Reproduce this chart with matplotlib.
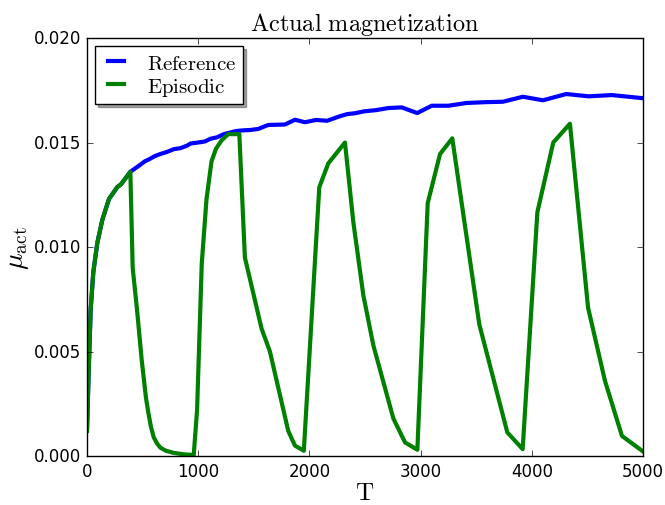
import matplotlib
matplotlib.use("Agg")
import matplotlib.pyplot as plt

plt.style.use("classic")

ref_T = [0, 15, 33, 57, 93, 138, 198, 273, 306, 390, 430, 470, 520, 560, 610, 660,
         720, 780, 840, 900, 930, 1000, 1060, 1110, 1170, 1230, 1290, 1340, 1400,
         1470, 1540, 1630, 1700, 1780, 1870, 1960, 2060, 2160, 2270, 2340, 2410,
         2490, 2600, 2710, 2830, 2970, 3100, 3250, 3410, 3580, 3740, 3920, 4100,
         4310, 4510, 4720, 5000]
ref_mu = [0.0012, 0.0040, 0.0070, 0.0088, 0.0102, 0.0113, 0.0123, 0.01287, 0.0130,
          0.0136, 0.01375, 0.0139, 0.0141, 0.0142, 0.01435, 0.01445, 0.01455,
          0.01468, 0.01473, 0.01485, 0.01495, 0.01500, 0.01505, 0.01518, 0.01525,
          0.01540, 0.01548, 0.01555, 0.01558, 0.01560, 0.01565, 0.01584, 0.01585,
          0.01586, 0.01609, 0.01597, 0.01608, 0.01604, 0.01625, 0.01636, 0.01640,
          0.01649, 0.01655, 0.01665, 0.01668, 0.01641, 0.01676, 0.01676, 0.01689,
          0.01693, 0.01695, 0.01719, 0.01702, 0.01732, 0.01721, 0.01727, 0.01712]

epi_T = [0, 15, 33, 57, 93, 138, 198, 273, 306, 390, 411, 450, 492, 530, 551, 575,
         600, 630, 660, 710, 780, 870, 960, 990, 1032, 1075, 1120, 1160, 1210, 1270,
         1370, 1420, 1570, 1645, 1810, 1870, 1950, 2089, 2170, 2320, 2395, 2485,
         2575, 2755, 2860, 2971, 3064, 3175, 3285, 3528, 3780, 3918, 4050, 4193,
         4343, 4506, 4658, 4811, 5000]
epi_mu = [0.0012, 0.0040, 0.0070, 0.0088, 0.0102, 0.0113, 0.0123, 0.01287, 0.0130,
          0.0136, 0.0090, 0.0070, 0.0046, 0.0028, 0.0021, 0.0014, 0.0009, 0.0006,
          0.0004, 0.00025, 0.00015, 0.00008, 0.00005, 0.0022, 0.0092, 0.0123,
          0.0141, 0.0147, 0.0151, 0.0154, 0.0154, 0.0095, 0.0061, 0.0050, 0.0012,
          0.0005, 0.00025, 0.01286, 0.0140, 0.0150, 0.0112, 0.0077, 0.0053, 0.0018,
          0.00065, 0.0003, 0.0121, 0.01445, 0.0152, 0.0063, 0.00113, 0.00033,
          0.01166, 0.0150, 0.0159, 0.0071, 0.0036, 0.00096, 0.00022]

x_ticks = [0, 1000, 2000, 3000, 4000, 5000]
y_ticks = [0.000, 0.005, 0.010, 0.015, 0.020]

fig = plt.figure(figsize=(6.65, 5.06), dpi=100, facecolor="white")
ax = fig.add_axes([0.1308, 0.0968, 0.8361, 0.8261])
ax.set_facecolor("white")

ax.plot(ref_T, ref_mu, color="#0000ff", lw=3, label=r"$\mathrm{Reference}$")
ax.plot(epi_T, epi_mu, color="#008000", lw=3, label=r"$\mathrm{Episodic}$")

ax.set_xlim(0, 5000)
ax.set_ylim(0, 0.020)
ax.set_xticks(x_ticks)
ax.set_yticks(y_ticks)
ax.set_yticklabels([f"{v:.3f}" for v in y_ticks])
ax.tick_params(labelsize=12)

ax.set_title(r"$\mathrm{Actual\ magnetization}$", fontsize=17.5, pad=6)
ax.set_xlabel(r"$\mathrm{T}$", fontsize=18, labelpad=0)
ax.set_ylabel(r"$\mu_{\rm act}$", fontsize=20, labelpad=2)

leg = ax.legend(loc="upper left", fontsize=15, shadow=True, fancybox=False,
                handlelength=1.4, borderaxespad=0.4, labelspacing=0.15,
                borderpad=0.3)

fig.savefig("out.png", dpi=100, facecolor="white")
